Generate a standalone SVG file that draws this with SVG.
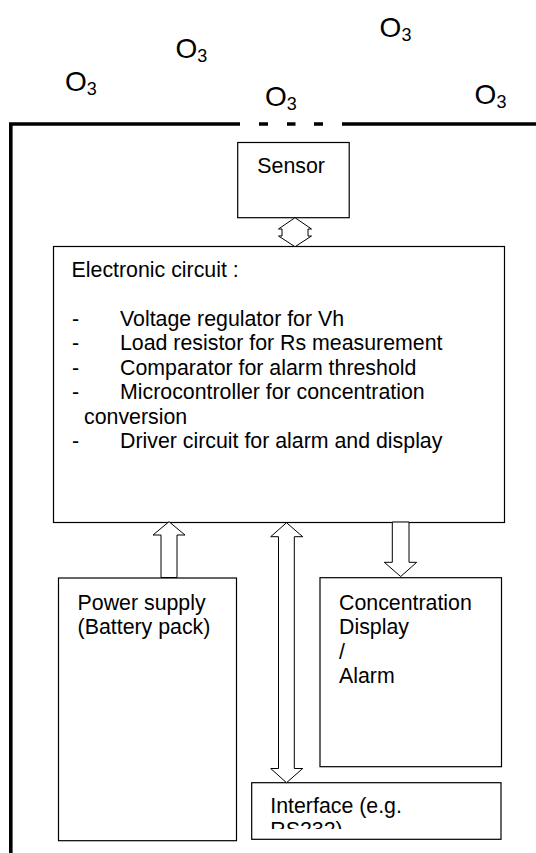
<svg xmlns="http://www.w3.org/2000/svg" width="536" height="853" viewBox="0 0 536 853">
<style>
text{font-family:"Liberation Sans",Arial,sans-serif;font-size:21.33px;fill:#000}
.o3{font-size:28px}
.sub{font-size:18px}
.box{fill:#fff;stroke:#000;stroke-width:1.2}
.arr{fill:#fff;stroke:#000;stroke-width:1}
.wall{fill:none;stroke:#000;stroke-width:3.6}
</style>
<defs>
<clipPath id="clipIf"><rect x="252" y="783" width="249" height="46"/></clipPath>
</defs>
<rect width="536" height="853" fill="#fff"/>
<g id="ozone">
<text class="o3" x="65" y="91">O<tspan class="sub" dy="4">3</tspan></text>
<text class="o3" x="175.5" y="58">O<tspan class="sub" dy="4">3</tspan></text>
<text class="o3" x="379.6" y="37">O<tspan class="sub" dy="4">3</tspan></text>
<text class="o3" x="265" y="105.5">O<tspan class="sub" dy="4">3</tspan></text>
<text class="o3" x="474.6" y="104">O<tspan class="sub" dy="4">3</tspan></text>
</g>
<g id="housing">
<path class="wall" d="M10.8,853 V124 H240"/>
<path class="wall" d="M259,124 H268 M287,124 H295.5 M314,124 H323 M342,124 H536"/>
</g>
<g id="sensor">
<rect class="box" x="237.7" y="142.5" width="111.5" height="75.2"/>
<text x="257.3" y="173.3">Sensor</text>
</g>
<g id="electronic">
<rect class="box" x="53.5" y="246.5" width="451" height="276"/>
<text x="71.6" y="276.7">Electronic circuit :</text>
<text x="72" y="325.7">-</text><text x="120" y="325.7">Voltage regulator for Vh</text>
<text x="72" y="350.2">-</text><text x="120" y="350.2">Load resistor for Rs measurement</text>
<text x="72" y="374.7">-</text><text x="120" y="374.7">Comparator for alarm threshold</text>
<text x="72" y="399.2">-</text><text x="120" y="399.2">Microcontroller for concentration</text>
<text x="84" y="423.7">conversion</text>
<text x="72" y="448.2">-</text><text x="120" y="448.2">Driver circuit for alarm and display</text>
</g>
<g id="power">
<rect class="box" x="58.5" y="578" width="178" height="262.7"/>
<text x="77.6" y="609.6">Power supply</text>
<text x="77.6" y="634.1">(Battery pack)</text>
</g>
<g id="display">
<rect class="box" x="320" y="577.7" width="181.5" height="189"/>
<text x="339" y="609.6">Concentration</text>
<text x="339" y="634.1">Display</text>
<text x="339" y="658.6">/</text>
<text x="339" y="683.1">Alarm</text>
</g>
<g id="interface">
<rect class="box" x="251.7" y="782.7" width="249.3" height="56.6"/>
<g clip-path="url(#clipIf)">
<text x="270.3" y="812.7">Interface (e.g.</text>
<text x="270.3" y="837.2">RS232)</text>
</g>
</g>
<g id="connectors">
<path class="arr" d="M295,217.7 L311.5,229 L308,229 L308,236 L311.5,236 L295,246.7 L278.5,236 L282,236 L282,229 L278.5,229 Z"/>
<path class="arr" d="M169,521.7 L185,535 L177,535 L177,577.5 L161,577.5 L161,535 L153,535 Z"/>
<path class="arr" d="M286.5,522.7 L302.7,536.7 L294.3,536.7 L294.3,768.5 L302.7,768.5 L286.5,782.7 L270.7,768.5 L278.5,768.5 L278.5,536.7 L270.7,536.7 Z"/>
<path class="arr" d="M392.3,522 L409,522 L409,562.3 L416.7,562.3 L400.7,576.5 L384.3,562.3 L392.3,562.3 Z"/>
</g>
</svg>
